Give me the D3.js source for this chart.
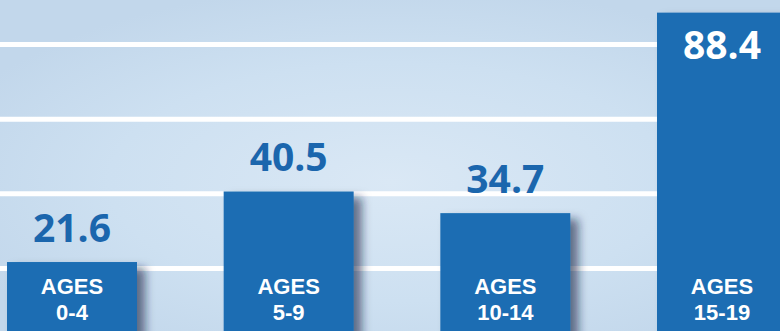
<!DOCTYPE html>
<html>
<head>
<meta charset="utf-8">
<script src="https://cdn.jsdelivr.net/npm/d3@7"></script>
<style>
  html, body { margin: 0; padding: 0; background: #c6dbee; }
  svg { display: block; }
</style>
</head>
<body>
<svg id="chart" width="780" height="331"></svg>
<script>
// Age groups and their rates
const categories = ["0-4", "5-9", "10-14", "15-19"];
const values = [21.6, 40.5, 34.7, 88.4];
const gridTicks = [20, 40, 60, 80];
const groupPrefix = "AGES";

const W = 780, H = 331;
const svg = d3.select("#chart");
const defs = svg.append("defs");

// Soft light-blue backdrop with a brighter glow in the middle
const bg = defs.append("radialGradient").attr("id", "bgGlow")
  .attr("cx", "50%").attr("cy", "55%").attr("r", "60%");
bg.append("stop").attr("offset", "0%").attr("stop-color", "#dae8f5");
bg.append("stop").attr("offset", "60%").attr("stop-color", "#cde0f1");
bg.append("stop").attr("offset", "100%").attr("stop-color", "#c2d7eb");
svg.append("rect").attr("width", W).attr("height", H).attr("fill", "url(#bgGlow)");

// Shadow cast down and to the right of each bar
const sh = defs.append("filter").attr("id", "barShadow")
  .attr("x", "-10%").attr("y", "-10%").attr("width", "140%").attr("height", "130%");
sh.append("feDropShadow").attr("dx", 8).attr("dy", 6)
  .attr("stdDeviation", 5).attr("flood-color", "#0a2440").attr("flood-opacity", 0.6);

const x = d3.scaleBand().domain(categories).range([7, 787])
  .paddingInner(0.4).paddingOuter(0);
const y = d3.scaleLinear().domain([0, 80]).range([342.7, 44]);

// White horizontal gridlines
const grid = d3.axisLeft(y).tickValues(gridTicks).tickSize(-W).tickFormat("");
svg.append("g").attr("class", "grid")
  .call(grid)
  .call(g => g.select(".domain").remove())
  .call(g => g.selectAll(".tick line")
    .attr("stroke", "#ffffff").attr("stroke-width", 5));

const data = categories.map((c, i) => ({ cat: c, value: values[i] }));

// Bars
svg.append("g").selectAll("rect").data(data).join("rect")
  .attr("x", d => x(d.cat))
  .attr("y", d => y(d.value))
  .attr("width", x.bandwidth())
  .attr("height", d => y(0) - y(d.value))
  .attr("fill", "#1a6db3")
  .attr("filter", "url(#barShadow)");

const font = "'Open Sans', 'Noto Sans', sans-serif";
const labelFont = "'Liberation Sans', Arial, sans-serif";
const inside = d => y(d.value) - 20 < 40;

// Value labels: above the bar, or inside in white when the bar reaches the top
svg.append("g").selectAll("text").data(data).join("text")
  .attr("x", d => x(d.cat) + x.bandwidth() / 2)
  .attr("y", d => inside(d) ? y(d.value) + 46 : y(d.value) - 20)
  .attr("text-anchor", "middle")
  .attr("font-family", font)
  .attr("font-weight", 700)
  .attr("font-size", 39)
  .attr("fill", d => inside(d) ? "#ffffff" : "#1b66ad")
  .text(d => d.value.toFixed(1));

// Category labels inside the bars, two lines each
const cx = d => x(d.cat) + x.bandwidth() / 2;
const catG = svg.append("g").attr("font-family", labelFont)
  .attr("font-weight", 700).attr("font-size", 22)
  .attr("fill", "#ffffff").attr("text-anchor", "middle");
catG.selectAll("text.prefix").data(data).join("text")
  .attr("class", "prefix")
  .attr("x", cx).attr("y", 294)
  .text(groupPrefix);
catG.selectAll("text.range").data(data).join("text")
  .attr("class", "range")
  .attr("x", cx).attr("y", 320)
  .text(d => d.cat);
</script>
</body>
</html>
